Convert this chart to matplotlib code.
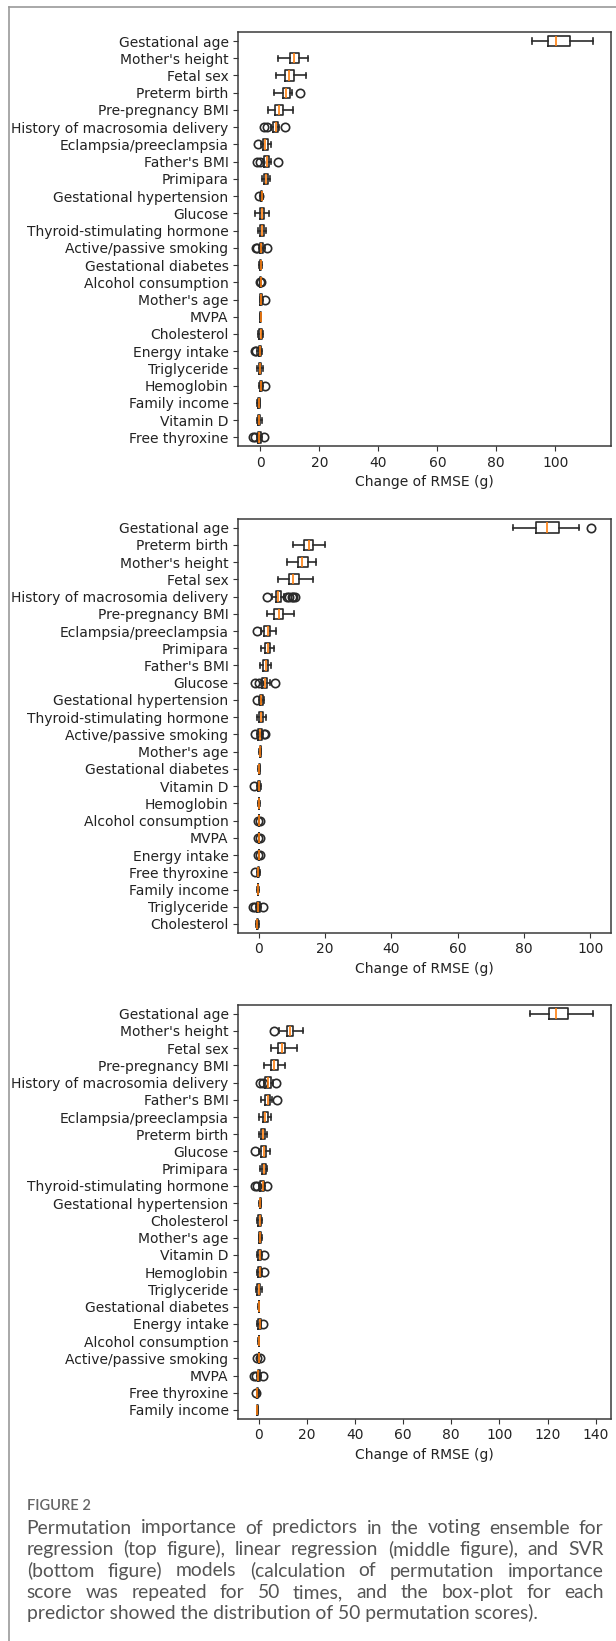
import matplotlib
matplotlib.use("Agg")
import matplotlib.pyplot as plt
from matplotlib.lines import Line2D

# ---------------- data ----------------
labels_top = ["Gestational age", "Mother's height", "Fetal sex", "Preterm birth",
              "Pre-pregnancy BMI", "History of macrosomia delivery", "Eclampsia/preeclampsia",
              "Father's BMI", "Primipara", "Gestational hypertension", "Glucose",
              "Thyroid-stimulating hormone", "Active/passive smoking", "Gestational diabetes",
              "Alcohol consumption", "Mother's age", "MVPA", "Cholesterol", "Energy intake",
              "Triglyceride", "Hemoglobin", "Family income", "Vitamin D", "Free thyroxine"]
whislo_top = [92.2, 6.1, 5.3, 4.7, 2.5, 3.6, 0.3, 0.8, 0.7, 0.0, -1.8, -0.8, -0.5, -0.4,
              -0.1, -0.3, -0.1, -0.8, -1.0, -1.1, -0.4, -1.0, -1.2, -1.0]
q1_top = [97.6, 10.1, 8.5, 7.7, 5.0, 4.4, 1.0, 1.1, 1.3, 0.2, -0.3, -0.2, -0.2, -0.15,
          0.0, -0.1, 0.0, -0.4, -0.6, -0.6, -0.1, -0.8, -0.8, -0.7]
med_top = [100.2, 11.4, 9.8, 8.7, 6.3, 5.2, 1.7, 2.1, 1.9, 0.4, 0.5, 0.6, 0.3, 0.1,
           0.05, 0.3, 0.05, 0.1, -0.3, -0.2, 0.3, -0.5, -0.4, -0.4]
q3_top = [105.0, 13.1, 11.4, 9.9, 7.7, 5.9, 2.6, 3.0, 2.6, 0.6, 1.25, 1.3, 1.0, 0.3,
          0.1, 0.6, 0.1, 0.5, 0.1, 0.3, 0.7, -0.2, 0.0, 0.1]
whishi_top = [112.9, 16.3, 15.3, 10.6, 11.0, 6.4, 3.7, 3.5, 3.1, 0.8, 2.9, 2.0, 1.4, 0.5,
              0.2, 0.9, 0.2, 1.0, 0.5, 0.8, 0.9, 0.0, 0.5, 0.6]
fliers_top = [[], [], [], [13.3], [], [1.3, 2.4, 8.3], [-0.9], [-1.0, 0.0, 5.8], [], [-0.6],
              [], [], [-1.5, -1.0, 2.1], [], [-0.1, 0.3], [1.6], [], [], [-2.0, -1.5],
              [], [1.5], [], [], [-2.6, -1.7, 1.25]]

labels_mid = ["Gestational age", "Preterm birth", "Mother's height", "Fetal sex",
              "History of macrosomia delivery", "Pre-pregnancy BMI", "Eclampsia/preeclampsia",
              "Primipara", "Father's BMI", "Glucose", "Gestational hypertension",
              "Thyroid-stimulating hormone", "Active/passive smoking", "Mother's age",
              "Gestational diabetes", "Vitamin D", "Hemoglobin", "Alcohol consumption", "MVPA",
              "Energy intake", "Free thyroxine", "Family income", "Triglyceride", "Cholesterol"]
whislo_mid = [76.8, 10.3, 8.4, 5.8, 4.0, 2.6, 0.7, 0.8, 0.3, 0.6, 0.1, -0.4, -0.4, 0.1,
              -0.1, -0.5, -0.1, 0.05, 0.05, 0.05, -0.6, -0.4, -0.7, -0.9]
q1_mid = [83.7, 13.8, 11.8, 9.1, 5.2, 4.7, 1.6, 1.9, 1.4, 1.1, 0.4, 0.2, -0.1, 0.25,
          0.05, -0.3, 0.0, 0.1, 0.1, 0.1, -0.3, -0.3, -0.4, -0.6]
med_mid = [86.9, 15.1, 13.2, 10.5, 5.9, 6.0, 2.7, 2.7, 2.1, 1.8, 0.8, 0.8, 0.4, 0.4,
           0.2, 0.1, 0.1, 0.1, 0.1, 0.1, -0.1, -0.2, -0.1, -0.4]
q3_mid = [90.5, 16.4, 15.0, 12.3, 6.6, 7.3, 3.5, 3.5, 2.9, 2.6, 1.2, 1.4, 0.9, 0.55,
          0.35, 0.4, 0.2, 0.15, 0.15, 0.15, 0.1, -0.1, 0.3, -0.1]
whishi_mid = [96.5, 20.1, 17.4, 16.4, 7.5, 10.6, 5.3, 4.6, 3.7, 3.4, 1.5, 2.2, 1.3, 0.7,
              0.5, 0.7, 0.3, 0.2, 0.2, 0.2, 0.3, 0.0, 0.6, 0.2]
fliers_mid = [[100.4], [], [], [], [2.6, 8.4, 9.2, 9.9, 10.5, 11.0], [], [-0.6], [], [],
              [-1.0, 0.0, 5.0], [-0.6], [], [-1.1, 1.7, 2.0], [], [], [-1.3], [],
              [-0.1, 0.4], [-0.1, 0.4], [-0.1, 0.4], [-1.0], [], [-1.6, -1.0, 1.4], []]

labels_bot = ["Gestational age", "Mother's height", "Fetal sex", "Pre-pregnancy BMI",
              "History of macrosomia delivery", "Father's BMI", "Eclampsia/preeclampsia",
              "Preterm birth", "Glucose", "Primipara", "Thyroid-stimulating hormone",
              "Gestational hypertension", "Cholesterol", "Mother's age", "Vitamin D",
              "Hemoglobin", "Triglyceride", "Gestational diabetes", "Energy intake",
              "Alcohol consumption", "Active/passive smoking", "MVPA", "Free thyroxine",
              "Family income"]
whislo_bot = [112.8, 8.4, 5.2, 2.4, 2.3, 0.9, 0.3, 0.1, 0.3, 0.6, 0.0, 0.3, -0.6, 0.0,
              -0.6, -0.5, -1.2, -0.1, -0.6, -0.1, -0.1, -0.6, -0.9, -0.9]
q1_bot = [120.6, 11.7, 8.1, 5.2, 2.8, 2.8, 1.6, 0.9, 1.1, 1.4, 0.5, 0.5, -0.2, 0.3,
          -0.2, -0.1, -0.6, 0.0, -0.2, 0.0, 0.0, -0.3, -0.7, -0.8]
med_bot = [123.5, 12.8, 9.7, 6.3, 4.0, 3.9, 2.7, 1.7, 2.0, 2.2, 1.6, 0.7, 0.5, 0.7,
           0.6, 0.4, 0.0, 0.1, 0.4, 0.1, 0.0, -0.1, -0.5, -0.6]
q3_bot = [128.6, 14.1, 11.0, 7.9, 5.0, 4.8, 3.9, 2.5, 3.0, 3.0, 2.3, 0.9, 0.9, 1.0,
          1.0, 1.0, 0.6, 0.2, 0.8, 0.2, 0.1, 0.4, -0.2, -0.4]
whishi_bot = [139.0, 18.5, 16.1, 10.9, 5.8, 5.6, 5.2, 3.3, 4.9, 3.6, 2.8, 1.1, 1.4, 1.3,
              1.4, 1.3, 1.2, 0.3, 1.1, 0.3, 0.2, 0.8, 0.0, -0.3]
fliers_bot = [[], [6.3], [], [], [0.7, 1.9, 7.3], [7.4], [], [], [-1.4], [],
              [-1.5, -0.6, 3.3], [], [], [], [2.3], [2.3], [], [], [1.9], [],
              [-0.6, 0.4], [-1.8, -1.1, 1.9], [-1.1], []]

xlabel = "Change of RMSE (g)"
xticks_top = [0, 20, 40, 60, 80, 100]
xticks_mid = [0, 20, 40, 60, 80, 100]
xticks_bot = [0, 20, 40, 60, 80, 100, 120, 140]

caption_head = "FIGURE 2"
caption_lines = [
    "Permutation importance of predictors in the voting ensemble for",
    "regression (top figure), linear regression (middle figure), and SVR",
    "(bottom figure) models (calculation of permutation importance",
    "score was repeated for 50 times, and the box-plot for each",
    "predictor showed the distribution of 50 permutation scores).",
]

# ---------------- figure ----------------
W, H = 616, 1641
fig = plt.figure(figsize=(W / 100, H / 100), dpi=100)
fig.patch.set_facecolor("white")


def rect(left, top, right, bottom):
    return [left / W, 1 - bottom / H, (right - left) / W, (bottom - top) / H]


def panel(r, labels, wlo, q1, med, q3, whi, fl, xlim, xticks):
    ax = fig.add_axes(r)
    n = len(labels)
    stats = []
    for i in range(n):
        stats.append(dict(label=labels[i], whislo=wlo[i], q1=q1[i], med=med[i],
                          q3=q3[i], whishi=whi[i], fliers=fl[i]))
    positions = list(range(n, 0, -1))
    lc = "#2a2a2a"
    ax.bxp(stats, positions=positions, vert=False, widths=0.6,
           boxprops=dict(color=lc, linewidth=1.2),
           whiskerprops=dict(color=lc, linewidth=1.2),
           capprops=dict(color=lc, linewidth=1.2),
           medianprops=dict(color="#ff7f0e", linewidth=1.2),
           flierprops=dict(marker="o", markerfacecolor="none",
                           markeredgecolor=lc, markeredgewidth=1.2, markersize=6))
    ax.set_ylim(0.5, n + 0.5)
    ax.set_xlim(*xlim)
    ax.set_xticks(xticks)
    ax.set_xlabel(xlabel, fontsize=10, color="#222222")
    ax.tick_params(axis="both", labelsize=10, colors="#333333", labelcolor="#222222")
    for s in ax.spines.values():
        s.set_color("#3a3a3a")
        s.set_linewidth(1.1)
    return ax


panel(rect(238.3, 32.4, 610.7, 446.0), labels_top, whislo_top, q1_top, med_top, q3_top,
      whishi_top, fliers_top, (-7.5, 118.8), xticks_top)
panel(rect(238.3, 519.0, 610.7, 932.6), labels_mid, whislo_mid, q1_mid, med_mid, q3_mid,
      whishi_mid, fliers_mid, (-6.15, 106.2), xticks_mid)
panel(rect(238.3, 1005.0, 610.7, 1418.6), labels_bot, whislo_bot, q1_bot, med_bot, q3_bot,
      whishi_bot, fliers_bot, (-8.47, 146.2), xticks_bot)

# frame lines
fig.add_artist(Line2D([9 / W, 1.0], [1 - 6.7 / H, 1 - 6.7 / H], transform=fig.transFigure,
                      color="#9a9a9a", linewidth=1.2))
fig.add_artist(Line2D([9 / W, 9 / W], [1 - 6.7 / H, 0.0], transform=fig.transFigure,
                      color="#9a9a9a", linewidth=1.2))

# caption
cap_font = ["Lato", "DejaVu Sans"]
cap_color = "#555555"
fig.text(26.7 / W, 1 - 1510 / H, caption_head, family=cap_font, fontsize=10.5,
         color="#666666", fontweight="semibold", va="baseline", ha="left")

renderer = fig.canvas.get_renderer()
x_left, x_right = 26.7, 603.5
last_target = 511.0
probe = fig.text(0, 0, caption_lines[-1], family=cap_font, fontsize=11)
w0 = probe.get_window_extent(renderer).width
probe.remove()
cap_size = 11 * last_target / w0

baselines = [1533.5, 1555.0, 1576.5, 1598.0, 1619.5]
for li, line in enumerate(caption_lines):
    yb = 1 - baselines[li] / H
    if li == len(caption_lines) - 1:
        fig.text(x_left / W, yb, line, family=cap_font, fontsize=cap_size,
                 color=cap_color, va="baseline", ha="left")
        continue
    words = line.split()
    texts = [fig.text(0, yb, w, family=cap_font, fontsize=cap_size, color=cap_color,
                      va="baseline", ha="left") for w in words]
    widths = [t.get_window_extent(renderer).width for t in texts]
    gap = (x_right - x_left - sum(widths)) / (len(words) - 1)
    x = x_left
    for t, wd in zip(texts, widths):
        t.set_x(x / W)
        x += wd + gap

fig.savefig("out.png", dpi=100, facecolor="white")
